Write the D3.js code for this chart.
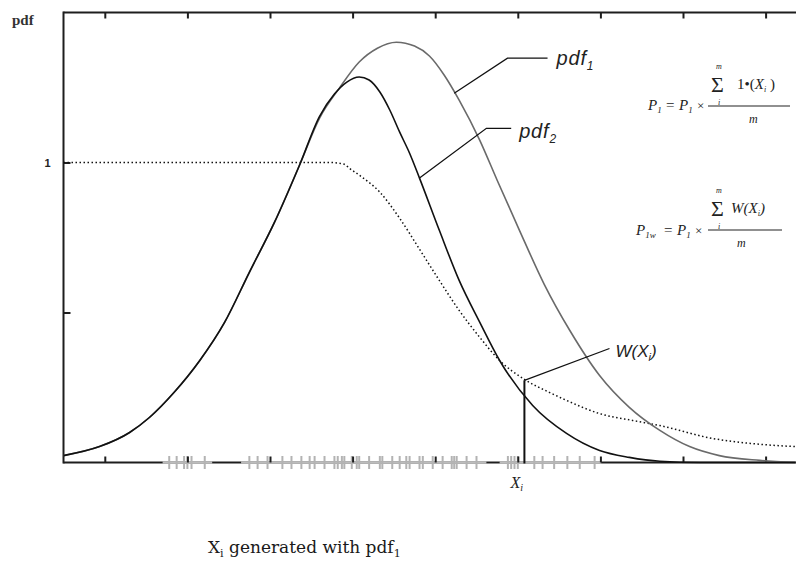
<!DOCTYPE html>
<html>
<head>
<meta charset="utf-8">
<script src="https://cdn.jsdelivr.net/npm/d3@7"></script>
<style>
  html, body { margin: 0; padding: 0; background: #fff; }
  svg { display: block; }
</style>
</head>
<body>
<svg id="chart" width="796" height="569"></svg>
<script>
// ---------------- data ----------------
const xTicks = [1, 2, 3, 4, 5, 6, 7, 8, 9];
const yTicks = [0.5, 1];
const yTickLabels = ["", "1"];

const pdf1X = [0.5, 0.936, 1.30, 1.54, 1.84, 2.15, 2.45, 2.75, 3.055, 3.357, 3.60, 3.84, 4.08, 4.30, 4.53, 4.75, 4.93, 5.11, 5.29, 5.54, 5.75, 6.02, 6.32, 6.63, 6.99, 7.35, 7.72, 8.08, 8.44, 8.93, 9.36];
const pdf1Y = [0.023, 0.053, 0.100, 0.150, 0.234, 0.340, 0.467, 0.634, 0.801, 0.991, 1.148, 1.248, 1.335, 1.381, 1.401, 1.388, 1.355, 1.291, 1.208, 1.074, 0.941, 0.774, 0.594, 0.440, 0.290, 0.184, 0.107, 0.053, 0.023, 0.007, 0.0];

const pdf2X = [0.5, 0.936, 1.30, 1.54, 1.84, 2.15, 2.45, 2.75, 3.055, 3.357, 3.60, 3.78, 3.93, 4.08, 4.20, 4.33, 4.45, 4.57, 4.69, 4.81, 5.05, 5.29, 5.54, 5.78, 6.18, 6.59, 6.99, 7.35, 7.72, 8.2, 9.36];
const pdf2Y = [0.023, 0.053, 0.100, 0.150, 0.234, 0.340, 0.467, 0.634, 0.801, 0.991, 1.154, 1.228, 1.268, 1.285, 1.275, 1.235, 1.175, 1.101, 1.031, 0.948, 0.774, 0.607, 0.467, 0.340, 0.190, 0.097, 0.040, 0.017, 0.004, 0.0, 0.0];

const wX = [0.5, 3.357, 3.72, 3.90, 3.96, 4.08, 4.33, 4.57, 4.81, 5.05, 5.29, 5.54, 5.78, 6.08, 6.38, 6.59, 6.99, 7.39, 7.72, 8.36, 8.84, 9.36];
const wY = [1.0, 1.0, 1.0, 0.994, 0.981, 0.958, 0.901, 0.814, 0.711, 0.607, 0.507, 0.417, 0.340, 0.277, 0.234, 0.207, 0.163, 0.140, 0.123, 0.080, 0.063, 0.053];

// samples Xi drawn from pdf1 (rug)
const rugX = [1.78, 1.87, 1.96, 2.00, 2.05, 2.21, 2.75, 2.85, 2.97, 3.15, 3.26, 3.38, 3.48, 3.54, 3.66, 3.78, 3.82, 3.87, 3.90, 3.99, 4.05, 4.08, 4.20, 4.33, 4.36, 4.48, 4.57, 4.65, 4.69, 4.81, 4.85, 4.97, 5.09, 5.20, 5.23, 5.26, 5.38, 5.50, 5.88, 5.92, 5.96, 6.00, 6.20, 6.30, 6.44, 6.60, 6.75, 6.93];
const rugBandStart = [1.70, 2.65, 5.78];
const rugBandEnd = [2.30, 5.62, 7.01];

const xiValue = 6.08;   // the highlighted sample X_i
const wAtXi = 0.274;    // W(X_i)

// leader lines (data units)
const pdf1LeaderX = [5.23, 5.875, 6.36];
const pdf1LeaderY = [1.231, 1.348, 1.348];
const pdf2LeaderX = [4.81, 5.62, 5.92];
const pdf2LeaderY = [0.948, 1.114, 1.114];
const wLeaderX = [6.08, 7.11];
const wLeaderY = [0.274, 0.380];

// ---------------- layout ----------------
const svg = d3.select("#chart");
const pL = 63.5, pT = 12.5, pB = 462.5, pR = 796;
const unit = 82.6;
const x = d3.scaleLinear().domain([0.5, 9.36]).range([pL, pL + 8.86 * unit]);
const y = d3.scaleLinear().domain([0, 1.5]).range([pB, pT]);

const axisColor = "#1e1e1e";

// frame: left, top, bottom lines
svg.append("line").attr("x1", pL).attr("x2", pL).attr("y1", pT - 1).attr("y2", pB + 1)
  .attr("stroke", axisColor).attr("stroke-width", 2);
svg.append("line").attr("x1", pL).attr("x2", pR + 2).attr("y1", pT).attr("y2", pT)
  .attr("stroke", axisColor).attr("stroke-width", 2);
svg.append("line").attr("x1", pL).attr("x2", pR + 2).attr("y1", pB).attr("y2", pB)
  .attr("stroke", axisColor).attr("stroke-width", 2);

// top ticks (inward)
const topAxis = d3.axisBottom(x).tickValues(xTicks).tickSize(6).tickFormat("");
const gTop = svg.append("g").attr("transform", `translate(0,${pT})`).call(topAxis);
gTop.select(".domain").remove();
gTop.selectAll(".tick line").attr("stroke", axisColor).attr("stroke-width", 2);

// y ticks (inward)
const yAxis = d3.axisRight(y).tickValues(yTicks).tickSize(7).tickFormat("");
const gY = svg.append("g").attr("transform", `translate(${pL},0)`).call(yAxis);
gY.select(".domain").remove();
gY.selectAll(".tick line").attr("stroke", axisColor).attr("stroke-width", 2);
svg.selectAll(".ylab").data(yTicks).enter().append("text")
  .attr("class", "ylab")
  .attr("x", pL - 16).attr("y", d => y(d) + 4)
  .attr("text-anchor", "middle")
  .attr("font-family", "Liberation Sans, Arial, sans-serif")
  .attr("font-weight", "bold").attr("font-size", 11).attr("fill", "#222")
  .text((d, i) => yTickLabels[i]);

// y-axis title "pdf"
svg.append("text").attr("x", 12).attr("y", 25)
  .attr("font-family", "Liberation Serif, Times New Roman, serif")
  .attr("font-weight", "bold").attr("font-size", 15).attr("fill", "#333")
  .text("pdf");

// rug band (gray overlay on the axis)
svg.selectAll(".band").data(rugBandStart).enter().append("line")
  .attr("x1", d => x(d)).attr("x2", (d, i) => x(rugBandEnd[i]))
  .attr("y1", pB).attr("y2", pB)
  .attr("stroke", "#bdbdbd").attr("stroke-width", 2.4);

// rug ticks
svg.selectAll(".rug").data(rugX).enter().append("line")
  .attr("x1", d => x(d)).attr("x2", d => x(d))
  .attr("y1", pB - 6.5).attr("y2", pB + 6.5)
  .attr("stroke", "#b3b3b3").attr("stroke-width", 2);

// bottom ticks (inward)
const botAxis = d3.axisTop(x).tickValues(xTicks).tickSize(6).tickFormat("");
const gBot = svg.append("g").attr("transform", `translate(0,${pB})`).call(botAxis);
gBot.select(".domain").remove();
gBot.selectAll(".tick line").attr("stroke", axisColor).attr("stroke-width", 2);

// curves
const line = d3.line().x(d => x(d[0])).y(d => y(d[1])).curve(d3.curveMonotoneX);
const pdf1 = pdf1X.map((v, i) => [v, pdf1Y[i]]);
const pdf2 = pdf2X.map((v, i) => [v, pdf2Y[i]]);
const wc = wX.map((v, i) => [v, wY[i]]);

svg.append("path").attr("d", line(wc)).attr("fill", "none")
  .attr("stroke", "#111").attr("stroke-width", 1.5).attr("stroke-dasharray", "1.5 2.5");
svg.append("path").attr("d", line(pdf1)).attr("fill", "none")
  .attr("stroke", "#6a6a6a").attr("stroke-width", 1.6);
svg.append("path").attr("d", line(pdf2)).attr("fill", "none")
  .attr("stroke", "#111").attr("stroke-width", 1.6);

// X_i vertical line
svg.append("line").attr("x1", x(xiValue)).attr("x2", x(xiValue))
  .attr("y1", y(wAtXi)).attr("y2", pB + 1)
  .attr("stroke", "#111").attr("stroke-width", 2);

// leader lines
const lead = d3.line().x(d => x(d[0])).y(d => y(d[1]));
[[pdf1LeaderX, pdf1LeaderY], [pdf2LeaderX, pdf2LeaderY], [wLeaderX, wLeaderY]].forEach(([lx, ly]) => {
  svg.append("path").attr("d", lead(lx.map((v, i) => [v, ly[i]])))
    .attr("fill", "none").attr("stroke", "#111").attr("stroke-width", 1.3);
});

// labels
function mkText(xp, yp, size, family, style) {
  return svg.append("text").attr("x", xp).attr("y", yp)
    .attr("font-family", family).attr("font-style", style || "normal")
    .attr("font-size", size).attr("fill", "#222");
}
const sansI = "Liberation Sans, Arial, sans-serif";
let t1 = mkText(x(pdf1LeaderX[2]) + 9, 65, 20, sansI, "italic").attr("letter-spacing", 0.8);
t1.append("tspan").text("pdf");
t1.append("tspan").attr("font-size", 12).attr("dy", 5).text("1");

let t2 = mkText(x(pdf2LeaderX[2]) + 8, 138, 20, sansI, "italic").attr("letter-spacing", 0.8);
t2.append("tspan").text("pdf");
t2.append("tspan").attr("font-size", 12).attr("dy", 5).text("2");

let t3 = mkText(x(wLeaderX[1]) + 6, 357, 17, sansI, "italic");
t3.append("tspan").text("W(X");
t3.append("tspan").attr("font-size", 11).attr("dy", 4).text("i");
t3.append("tspan").attr("dy", -4).text(")");

// X_i under the axis
const serif = "DejaVu Serif, Liberation Serif, serif";
let t4 = mkText(x(xiValue) - 14, 488, 16, "Liberation Serif, serif", "italic");
t4.append("tspan").text("X");
t4.append("tspan").attr("font-size", 10).attr("dy", 3).text("i");

// caption
let cap = mkText(208, 553, 17, serif, "normal").attr("fill", "#1a1a1a");
cap.append("tspan").text("X");
cap.append("tspan").attr("font-size", 11).attr("dy", 4).text("i");
cap.append("tspan").attr("dy", -4).text(" generated with pdf");
cap.append("tspan").attr("font-size", 11).attr("dy", 4).text("1");

// formulas
const fserif = "Liberation Serif, Times New Roman, serif";
function ftext(xp, yp, size, style, txt) {
  return svg.append("text").attr("x", xp).attr("y", yp).attr("font-family", fserif)
    .attr("font-size", size).attr("font-style", style).attr("fill", "#222").text(txt);
}
function pSub(xp, yp, sub) {
  const t = svg.append("text").attr("x", xp).attr("y", yp).attr("font-family", fserif)
    .attr("font-size", 15).attr("font-style", "italic").attr("fill", "#222");
  t.append("tspan").text("P");
  t.append("tspan").attr("font-size", 9).attr("dy", 3).text(sub);
}
// formula 1
pSub(648, 110, "1");
ftext(666, 110, 15, "normal", "=");
pSub(679, 110, "1");
ftext(697, 110, 13, "normal", "×");
ftext(711, 92, 22, "normal", "Σ");
ftext(716, 69, 8, "italic", "m");
ftext(718, 105, 8, "italic", "i");
{
  const t = svg.append("text").attr("x", 737).attr("y", 89).attr("font-family", fserif)
    .attr("font-size", 15).attr("fill", "#222");
  t.append("tspan").text("1•(");
  t.append("tspan").attr("font-style", "italic").text("X");
  t.append("tspan").attr("font-size", 8).attr("font-style", "italic").attr("dy", 3).text("i");
  t.append("tspan").attr("dy", -3).text(" )");
}
svg.append("line").attr("x1", 708).attr("x2", 790).attr("y1", 106).attr("y2", 106)
  .attr("stroke", "#222").attr("stroke-width", 1.2);
ftext(749, 123, 12, "italic", "m");

// formula 2
{
  const t = svg.append("text").attr("x", 636).attr("y", 235).attr("font-family", fserif)
    .attr("font-size", 15).attr("font-style", "italic").attr("fill", "#222");
  t.append("tspan").text("P");
  t.append("tspan").attr("font-size", 9).attr("dy", 3).text("1w");
}
ftext(664, 235, 15, "normal", "=");
pSub(677, 235, "1");
ftext(695, 235, 13, "normal", "×");
ftext(711, 216, 22, "normal", "Σ");
ftext(716, 193, 8, "italic", "m");
ftext(718, 229, 8, "italic", "i");
{
  const t = svg.append("text").attr("x", 731).attr("y", 213).attr("font-family", fserif)
    .attr("font-size", 15).attr("font-style", "italic").attr("fill", "#222");
  t.append("tspan").text("W(X");
  t.append("tspan").attr("font-size", 8).attr("dy", 3).text("i");
  t.append("tspan").attr("dy", -3).text(")");
}
svg.append("line").attr("x1", 708).attr("x2", 782).attr("y1", 230).attr("y2", 230)
  .attr("stroke", "#222").attr("stroke-width", 1.2);
ftext(737, 247, 12, "italic", "m");
</script>
</body>
</html>
